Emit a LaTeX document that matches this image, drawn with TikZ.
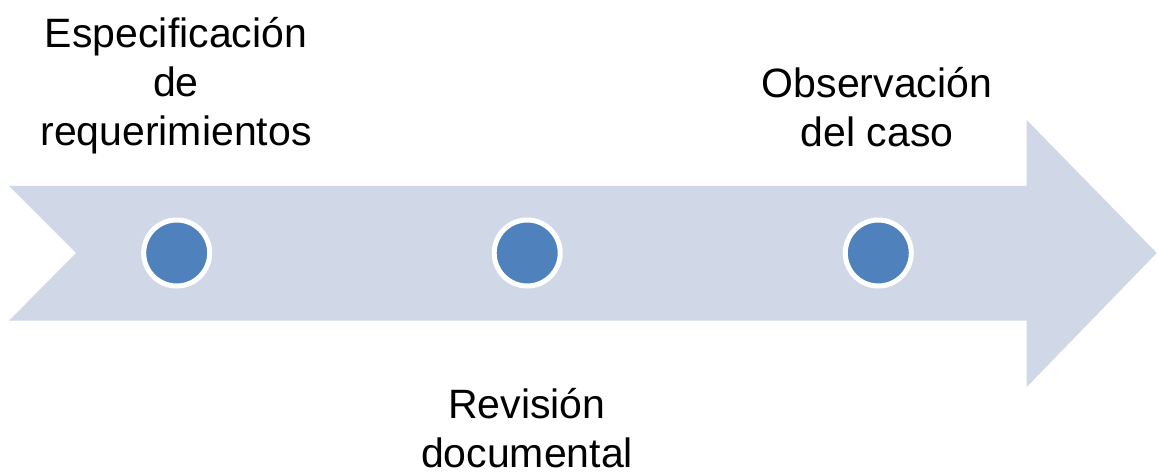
\documentclass[tikz,border=0pt]{standalone}
\usepackage{fontspec}
\setmainfont{Liberation Sans}
\definecolor{arrowfill}{HTML}{D0D8E8}
\definecolor{dotfill}{HTML}{4F81BD}
\begin{document}
\begin{tikzpicture}[x=1pt,y=1pt,
  dot/.style={circle,minimum size=66pt,inner sep=0pt,line width=5pt,draw=white,fill=dotfill},
  label/.style={align=center,inner sep=0pt,anchor=base,font=\fontsize{41}{49}\selectfont}]
\useasboundingbox (0,0) rectangle (1157,472);
\fill[arrowfill] (9,286) -- (1026.7,286) -- (1026.7,352) -- (1156.7,219) -- (1026.7,85) -- (1026.7,151.3) -- (9,151.3) -- (76,219) -- cycle;
\node[dot] (d1) at (176.7,219) {};
\node[dot] (d2) at (527.2,219) {};
\node[dot] (d3) at (878.3,219) {};
\node[label] (t1) at (176,326) {Especificación\\de\\requerimientos};
\node[label] (t2) at (527,5) {Revisión\\documental};
\node[label] (t3) at (877,325) {Observación\\del caso};
\end{tikzpicture}
\end{document}
